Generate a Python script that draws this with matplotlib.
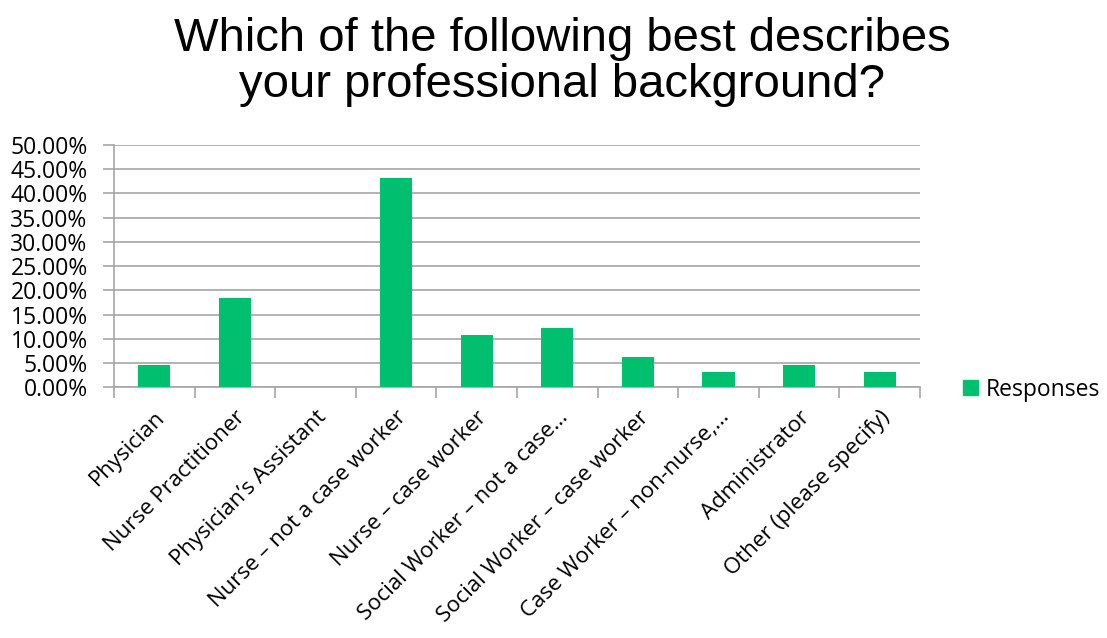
import matplotlib.pyplot as plt
from matplotlib.ticker import PercentFormatter, FixedLocator
from matplotlib.patches import Patch

categories = [
    "Physician",
    "Nurse Practitioner",
    "Physician\u2019s Assistant",
    "Nurse \u2013 not a case worker",
    "Nurse \u2013 case worker",
    "Social Worker \u2013 not a case\u2026",
    "Social Worker \u2013 case worker",
    "Case Worker \u2013 non-nurse,\u2026",
    "Administrator",
    "Other (please specify)",
]
responses = [4.62, 18.46, 0.0, 43.08, 10.77, 12.31, 6.15, 3.08, 4.62, 3.08]
y_ticks = [0, 5, 10, 15, 20, 25, 30, 35, 40, 45, 50]

green = "#00BF6F"
grid_grey = "#A6A6A6"
label_font = "Open Sans"
label_size = 16

fig = plt.figure(figsize=(11.07, 6.38), dpi=100)
ax = fig.add_axes([0.103, 0.393, 0.728, 0.380])

x = list(range(len(categories)))
ax.bar(x, responses, width=0.4, color=green, zorder=3)

ax.set_xlim(-0.5, len(categories) - 0.5)
ax.set_ylim(0, 50)
ax.set_yticks(y_ticks)
ax.yaxis.set_major_formatter(PercentFormatter(decimals=2))
ax.grid(axis="y", color=grid_grey, linewidth=1.2, zorder=0)

# category labels at the centres, tick marks on the boundaries
ax.set_xticks(x)
ax.set_xticklabels(categories, rotation=45, ha="right", rotation_mode="anchor",
                   family=label_font, fontsize=label_size)
ax.tick_params(axis="x", which="major", length=0, pad=14)
ax.xaxis.set_minor_locator(FixedLocator([i - 0.5 for i in range(len(categories) + 1)]))
ax.tick_params(axis="x", which="minor", length=8, color=grid_grey, width=1.2)
ax.tick_params(axis="y", length=8, color=grid_grey, width=1.2, pad=11)
for lbl in ax.get_yticklabels():
    lbl.set_family(label_font)
    lbl.set_fontsize(16.5)

for side in ("top", "right"):
    ax.spines[side].set_visible(False)
for side in ("left", "bottom"):
    ax.spines[side].set_color(grid_grey)
    ax.spines[side].set_linewidth(1.2)

fig.text(0.508, 0.973, "Which of the following best describes\nyour professional background?",
         ha="center", va="top", family="Liberation Sans", fontsize=34, linespacing=1.06)

fig.legend(handles=[Patch(color=green, label="Responses")], loc="center left",
           bbox_to_anchor=(0.851, 0.389), frameon=False, handlelength=0.65,
           handleheight=0.65, handletextpad=0.36,
           prop={"family": label_font, "size": 16.5})

fig.savefig("out.png", dpi=100)
